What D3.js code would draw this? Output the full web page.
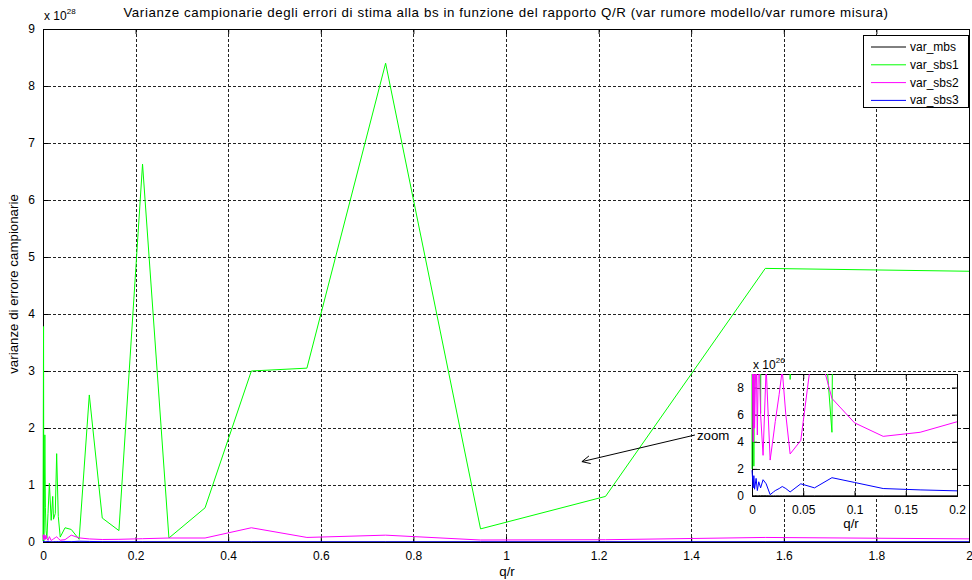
<!DOCTYPE html>
<html>
<head>
<meta charset="utf-8">
<script src="https://cdn.jsdelivr.net/npm/d3@7"></script>
<style>
  body { margin: 0; background: #fff; }
  text { font-family: "Liberation Sans", Arial, sans-serif; fill: #000; }
</style>
</head>
<body>
<svg id="chart" width="972" height="580"></svg>
<script>
// q/r sample points (shared by all series)
const qr = [0, 0.0012, 0.0018, 0.0025, 0.004, 0.0052, 0.0066, 0.0084, 0.0108, 0.0138,
  0.0177, 0.021, 0.0227, 0.0265, 0.0295, 0.033, 0.0372, 0.0476, 0.061, 0.078,
  0.1, 0.128, 0.164, 0.215, 0.272, 0.35, 0.45, 0.57, 0.74, 0.945, 1.215, 1.56, 2.0];

// sample variances, units of 1e28
const varMbs = [0.0003, 0.0002, 0.0003, 0.0002, 0.0002, 0.0002, 0.0002, 0.0002, 0.0002, 0.0002,
  0.0001, 0.0001, 0.0001, 0.0001, 0.0001, 0.0001, 0.0001, 0.0001, 0.0001, 0.0001,
  0.0001, 0.0001, 0.0001, 0.0001, 0.0001, 0.0001, 0.0001, 0.0001, 0.0001, 0.0001, 0.0001, 0.0001, 0.0001];
const varSbs1 = [0.02, 3.78, 0.022, 0.35, 1.88, 0.6, 0.2, 0.061, 0.5, 1.03,
  0.38, 0.8, 0.4, 0.5, 1.55, 0.45, 0.086, 0.25, 0.22, 0.047,
  2.58, 0.42, 0.2, 6.63, 0.07, 0.6, 3.0, 3.05, 8.4, 0.23, 0.8, 4.8, 4.75];
const varSbs2 = [0.12, 0.04, 0.13, 0.05, 0.11, 0.045, 0.12, 0.06, 0.03, 0.095,
  0.0265, 0.045, 0.055, 0.075, 0.093, 0.06, 0.031, 0.041, 0.12, 0.072,
  0.054, 0.044, 0.047, 0.058, 0.07, 0.07, 0.25, 0.08, 0.12, 0.035, 0.04, 0.08, 0.055];
const varSbs3 = [0.019, 0.006, 0.015, 0.005, 0.013, 0.004, 0.0105, 0.006, 0.012, 0.009,
  0.001, 0.003, 0.004, 0.0055, 0.007, 0.0055, 0.003, 0.009, 0.006, 0.0135,
  0.010, 0.0055, 0.0045, 0.0035, 0.003, 0.003, 0.003, 0.003, 0.003, 0.003, 0.003, 0.003, 0.003];

const seriesNames = ["var_mbs", "var_sbs1", "var_sbs2", "var_sbs3"];
const seriesColors = ["#000000", "#00ff00", "#ff00ff", "#0000ff"];
const seriesValues = [varMbs, varSbs1, varSbs2, varSbs3];

const xTicks = [0, 0.2, 0.4, 0.6, 0.8, 1, 1.2, 1.4, 1.6, 1.8, 2];
const yTicks = [0, 1, 2, 3, 4, 5, 6, 7, 8, 9];
const insetXTicks = [0, 0.05, 0.1, 0.15, 0.2];
const insetYTicks = [0, 2, 4, 6, 8];   // units of 1e26

const titleText = "Varianze campionarie degli errori di stima alla bs in funzione del rapporto Q/R (var rumore modello/var rumore misura)";
const arrowFrom = [1.408, 1.877];
const arrowTo = [1.164, 1.41];

const svg = d3.select("#chart");
const fmt = d => d3.format("~g")(d);

// draws one MATLAB-style axes box
function drawAxes(box, xDom, yDom, xt, yt, yMul, clipId) {
  const x = d3.scaleLinear().domain(xDom).range([box.left, box.right]);
  const y = d3.scaleLinear().domain(yDom).range([box.bottom, box.top]);
  const g = svg.append("g");

  g.append("rect")
    .attr("x", box.left).attr("y", box.top)
    .attr("width", box.right - box.left).attr("height", box.bottom - box.top)
    .attr("fill", "#fff");

  // grid
  g.append("g")
    .attr("transform", `translate(0,${box.bottom})`)
    .call(d3.axisBottom(x).tickValues(xt).tickSize(-(box.bottom - box.top)).tickFormat(""))
    .call(s => s.select(".domain").remove())
    .selectAll("line").attr("stroke", "#222").attr("stroke-dasharray", "3,2").attr("shape-rendering", "crispEdges");
  g.append("g")
    .attr("transform", `translate(${box.left},0)`)
    .call(d3.axisLeft(y).tickValues(yt).tickSize(-(box.right - box.left)).tickFormat(""))
    .call(s => s.select(".domain").remove())
    .selectAll("line").attr("stroke", "#222").attr("stroke-dasharray", "3,2").attr("shape-rendering", "crispEdges");

  // axes with inner ticks
  const tl = 5;
  const axes = g.append("g");
  axes.append("g").attr("transform", `translate(0,${box.bottom})`)
    .call(d3.axisBottom(x).tickValues(xt).tickSize(-tl).tickPadding(9).tickFormat(fmt));
  axes.append("g").attr("transform", `translate(0,${box.top})`)
    .call(d3.axisTop(x).tickValues(xt).tickSize(-tl).tickFormat(""));
  axes.append("g").attr("transform", `translate(${box.left},0)`)
    .call(d3.axisLeft(y).tickValues(yt).tickSize(-tl).tickPadding(8).tickFormat(fmt));
  axes.append("g").attr("transform", `translate(${box.right},0)`)
    .call(d3.axisRight(y).tickValues(yt).tickSize(-tl).tickFormat(""));
  axes.selectAll(".domain").attr("stroke", "#000").attr("shape-rendering", "crispEdges");
  axes.selectAll(".tick line").attr("stroke", "#000");
  axes.selectAll(".tick text").style("font-size", "12px").style("font-family", "Liberation Sans, Arial, sans-serif");

  svg.append("clipPath").attr("id", clipId).append("rect")
    .attr("x", box.left - 1).attr("y", box.top)
    .attr("width", box.right - box.left + 1).attr("height", box.bottom - box.top);

  // data lines drawn over the box
  const lines = g.append("g").attr("clip-path", `url(#${clipId})`);
  const line = d3.line().x(d => x(d[0])).y(d => y(d[1] * yMul));
  seriesValues.forEach((vals, i) => {
    lines.append("path")
      .datum(qr.map((q, j) => [q, vals[j]]))
      .attr("fill", "none")
      .attr("stroke", seriesColors[i])
      .attr("stroke-width", 1)
      .attr("d", line);
  });

  return { x, y, g };
}

// main axes
const main = drawAxes({ left: 43, right: 969, top: 29, bottom: 542 }, [0, 2], [0, 9],
  xTicks, yTicks, 1, "clipMain");

svg.append("text").attr("x", 506).attr("y", 17).attr("text-anchor", "middle")
  .style("font-size", "13.3px").style("letter-spacing", "0.6px").text(titleText);
svg.append("text").attr("x", 507).attr("y", 576).attr("text-anchor", "middle")
  .style("font-size", "13.3px").text("q/r");
svg.append("text").attr("transform", "translate(18,284) rotate(-90)").attr("text-anchor", "middle")
  .style("font-size", "13.3px").text("varianze di errore campionarie");
const mexp = svg.append("text").attr("x", 44).attr("y", 20).style("font-size", "12px");
mexp.append("tspan").text("x 10");
mexp.append("tspan").attr("dy", -6).style("font-size", "8px").text("28");

// annotation arrow
const ax0 = main.x(arrowFrom[0]), ay0 = main.y(arrowFrom[1]);
const ax1 = main.x(arrowTo[0]), ay1 = main.y(arrowTo[1]);
svg.append("line").attr("x1", ax0).attr("y1", ay0).attr("x2", ax1).attr("y2", ay1)
  .attr("stroke", "#000");
const ang = Math.atan2(ay0 - ay1, ax0 - ax1);
[0.45, -0.45].forEach(da => {
  svg.append("line").attr("x1", ax1).attr("y1", ay1)
    .attr("x2", ax1 + 9 * Math.cos(ang + da)).attr("y2", ay1 + 9 * Math.sin(ang + da))
    .attr("stroke", "#000");
});
svg.append("text").attr("x", ax0 + 2).attr("y", ay0 + 5).style("font-size", "13.3px").text("zoom");

// legend
const leg = svg.append("g");
leg.append("rect").attr("x", 863.5).attr("y", 35.5).attr("width", 105).attr("height", 72)
  .attr("fill", "#fff").attr("stroke", "#000");
seriesNames.forEach((n, i) => {
  const yy = 47 + i * 17.8;
  leg.append("line").attr("x1", 871).attr("x2", 906).attr("y1", yy).attr("y2", yy)
    .attr("stroke", seriesColors[i]);
  leg.append("text").attr("x", 910).attr("y", yy + 4).style("font-size", "12px").text(n);
});

// inset (zoom) axes, units of 1e26
const inset = drawAxes({ left: 752, right: 957, top: 374, bottom: 496 }, [0, 0.2], [0, 9],
  insetXTicks, insetYTicks, 100, "clipInset");
svg.append("text").attr("x", 851).attr("y", 528).attr("text-anchor", "middle")
  .style("font-size", "13.3px").text("q/r");
const iexp = svg.append("text").attr("x", 753).attr("y", 369).style("font-size", "12px");
iexp.append("tspan").text("x 10");
iexp.append("tspan").attr("dy", -6).style("font-size", "8px").text("26");
</script>
</body>
</html>
